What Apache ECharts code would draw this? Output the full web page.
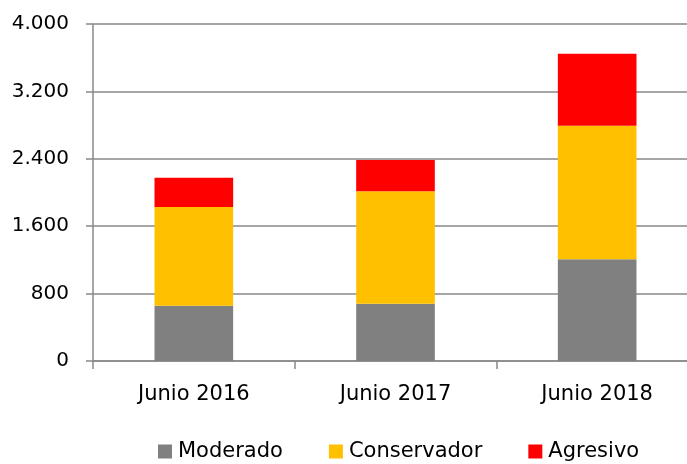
<!DOCTYPE html>
<html>
<head>
<meta charset="utf-8">
<script src="https://cdn.jsdelivr.net/npm/echarts@6/dist/echarts.min.js"></script>
<style>
html,body{margin:0;padding:0;background:#fff;overflow:hidden;}
/* el lienzo es algo más ancho que la ventana: la rejilla continúa fuera del borde */
#chart{width:698px;height:464px;}
</style>
</head>
<body>
<div id="chart"></div>
<script>
var categories = ['Junio 2016', 'Junio 2017', 'Junio 2018'];
var moderado = [656, 680, 1207];
var conservador = [1172, 1334, 1586];
var agresivo = [348, 372, 855];

var axisGray = '#898989';

function miles(v){
	// separador de miles con punto
	return String(v).replace(/\B(?=(\d{3})+(?!\d))/g, '.');
}

var chart = echarts.init(document.getElementById('chart'));
var option = {
	animation: false,
	textStyle: { fontFamily: 'DejaVu Sans' },
	grid: { left: 93, top: 24, width: 605, height: 337, containLabel: false },
	legend: {
		left: 158,
		top: 441,
		padding: 0,
		itemWidth: 14,
		itemHeight: 14,
		itemGap: 46,
		icon: 'rect',
		textStyle: { fontSize: 21, color: '#000', fontFamily: 'DejaVu Sans', padding: [0, 0, 0, 1] },
		data: ['Moderado', 'Conservador', 'Agresivo']
	},
	xAxis: {
		type: 'category',
		data: categories,
		axisLine: { lineStyle: { color: axisGray, width: 1.5 } },
		axisTick: { show: true, length: 8, lineStyle: { color: axisGray, width: 1.5 } },
		axisLabel: { fontSize: 21, color: '#000', margin: 23 }
	},
	yAxis: {
		type: 'value',
		min: 0,
		max: 4000,
		interval: 800,
		axisLine: { show: true, lineStyle: { color: axisGray, width: 1.5 } },
		axisTick: { show: true, length: 7, lineStyle: { color: axisGray, width: 1.5 } },
		splitLine: { lineStyle: { color: axisGray, width: 1.5 } },
		axisLabel: { fontSize: 20, color: '#000', margin: 24, formatter: miles }
	},
	series: [
		{ name: 'Moderado', type: 'bar', stack: 'total', barWidth: '39%', data: moderado, itemStyle: { color: '#808080' } },
		{ name: 'Conservador', type: 'bar', stack: 'total', data: conservador, itemStyle: { color: '#FFC000' } },
		{ name: 'Agresivo', type: 'bar', stack: 'total', data: agresivo, itemStyle: { color: '#FF0000' } }
	]
};
chart.setOption(option);
</script>
</body>
</html>
